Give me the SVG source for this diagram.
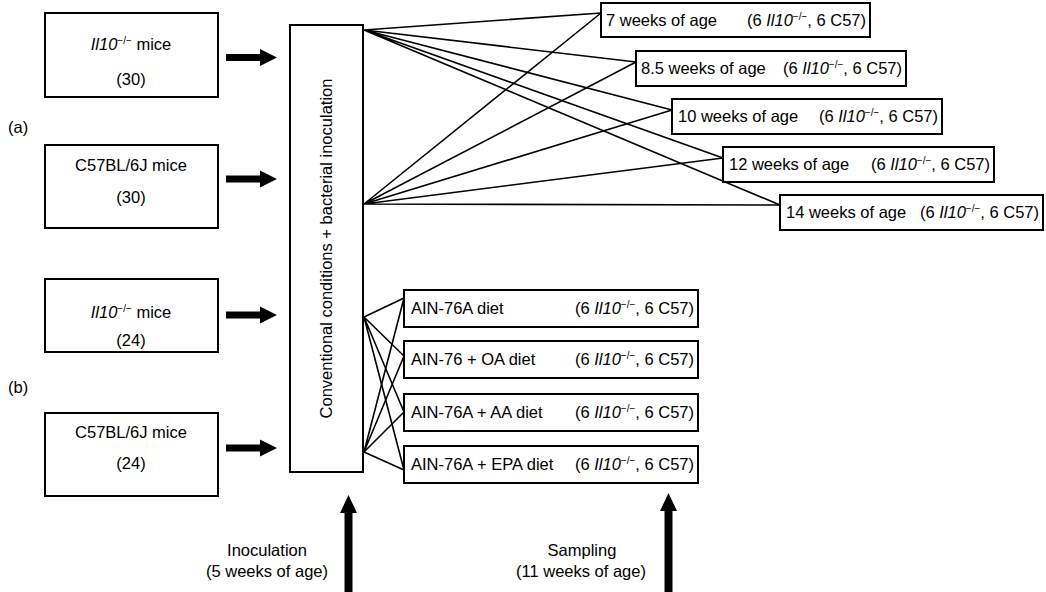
<svg xmlns="http://www.w3.org/2000/svg" width="1046" height="592" viewBox="0 0 1046 592">
  <style>
    .box { fill: #fff; stroke: #000; stroke-width: 2; }
    .t { font-family: "Liberation Sans", Arial, sans-serif; font-size: 16.5px; fill: #000; }
    .c { text-anchor: middle; }
    .e { text-anchor: end; }
    .i { font-style: italic; }
    .sup { font-size: 10px; }
    .link { stroke: #000; stroke-width: 1.6; fill: none; }
    .thick { fill: #000; }
  </style>
  <defs>
    <!-- thick block arrow pointing right, tip at origin -->
    <polygon id="arrowR" points="-51,-3.5 -17,-3.5 -17,-8.5 0,0 -17,8.5 -17,3.5 -51,3.5"/>
  </defs>

  <!-- group labels -->
  <text class="t" x="8" y="133">(a)</text>
  <text class="t" x="8" y="393">(b)</text>

  <!-- source groups -->
  <g id="il10-a">
    <rect class="box" x="45" y="13" width="173" height="84"/>
    <text class="t c" x="131" y="50"><tspan class="i">Il10</tspan><tspan class="sup" dy="-6">−/−</tspan><tspan dy="6"> mice</tspan></text>
    <text class="t c" x="131" y="85">(30)</text>
  </g>
  <g id="c57-a">
    <rect class="box" x="45" y="145" width="173" height="83"/>
    <text class="t c" x="131" y="171">C57BL/6J mice</text>
    <text class="t c" x="131" y="203">(30)</text>
  </g>
  <g id="il10-b">
    <rect class="box" x="45" y="279" width="173" height="73"/>
    <text class="t c" x="131" y="318"><tspan class="i">Il10</tspan><tspan class="sup" dy="-6">−/−</tspan><tspan dy="6"> mice</tspan></text>
    <text class="t c" x="131" y="346">(24)</text>
  </g>
  <g id="c57-b">
    <rect class="box" x="45" y="413" width="173" height="83"/>
    <text class="t c" x="131" y="438">C57BL/6J mice</text>
    <text class="t c" x="131" y="469">(24)</text>
  </g>

  <!-- central treatment box -->
  <g id="treatment">
    <rect class="box" x="290" y="25" width="73" height="447"/>
    <text class="t c" transform="translate(332 248.5) rotate(-90)">Conventional conditions + bacterial inoculation</text>
  </g>

  <!-- sampling age groups -->
  <g id="wk7">
    <rect class="box" x="601" y="3" width="269" height="34"/>
    <text class="t" x="606" y="26">7 weeks of age</text>
    <text class="t e" x="866" y="26">(6 <tspan class="i">Il10</tspan><tspan class="sup" dy="-6">−/−</tspan><tspan dy="6">, 6 C57)</tspan></text>
  </g>
  <g id="wk8-5">
    <rect class="box" x="636" y="51" width="270" height="35"/>
    <text class="t" x="641" y="74">8.5 weeks of age</text>
    <text class="t e" x="902" y="74">(6 <tspan class="i">Il10</tspan><tspan class="sup" dy="-6">−/−</tspan><tspan dy="6">, 6 C57)</tspan></text>
  </g>
  <g id="wk10">
    <rect class="box" x="672" y="99" width="270" height="35"/>
    <text class="t" x="678" y="122">10 weeks of age</text>
    <text class="t e" x="938" y="122">(6 <tspan class="i">Il10</tspan><tspan class="sup" dy="-6">−/−</tspan><tspan dy="6">, 6 C57)</tspan></text>
  </g>
  <g id="wk12">
    <rect class="box" x="723" y="147" width="271" height="35"/>
    <text class="t" x="729" y="170">12 weeks of age</text>
    <text class="t e" x="990" y="170">(6 <tspan class="i">Il10</tspan><tspan class="sup" dy="-6">−/−</tspan><tspan dy="6">, 6 C57)</tspan></text>
  </g>
  <g id="wk14">
    <rect class="box" x="780" y="195" width="263" height="35"/>
    <text class="t" x="786" y="218">14 weeks of age</text>
    <text class="t e" x="1039" y="218">(6 <tspan class="i">Il10</tspan><tspan class="sup" dy="-6">−/−</tspan><tspan dy="6">, 6 C57)</tspan></text>
  </g>

  <!-- diet groups -->
  <g id="diet-ain76a">
    <rect class="box" x="404" y="290" width="294" height="37"/>
    <text class="t" x="411" y="314">AIN-76A diet</text>
    <text class="t e" x="694" y="314">(6 <tspan class="i">Il10</tspan><tspan class="sup" dy="-6">−/−</tspan><tspan dy="6">, 6 C57)</tspan></text>
  </g>
  <g id="diet-oa">
    <rect class="box" x="404" y="341" width="294" height="37"/>
    <text class="t" x="411" y="365">AIN-76 + OA diet</text>
    <text class="t e" x="694" y="365">(6 <tspan class="i">Il10</tspan><tspan class="sup" dy="-6">−/−</tspan><tspan dy="6">, 6 C57)</tspan></text>
  </g>
  <g id="diet-aa">
    <rect class="box" x="404" y="394" width="294" height="37"/>
    <text class="t" x="411" y="418">AIN-76A + AA diet</text>
    <text class="t e" x="694" y="418">(6 <tspan class="i">Il10</tspan><tspan class="sup" dy="-6">−/−</tspan><tspan dy="6">, 6 C57)</tspan></text>
  </g>
  <g id="diet-epa">
    <rect class="box" x="404" y="446" width="294" height="37"/>
    <text class="t" x="411" y="470">AIN-76A + EPA diet</text>
    <text class="t e" x="694" y="470">(6 <tspan class="i">Il10</tspan><tspan class="sup" dy="-6">−/−</tspan><tspan dy="6">, 6 C57)</tspan></text>
  </g>

  <!-- connectors -->
  <g id="connectors">
    <!-- input arrows into treatment -->
    <use href="#arrowR" class="thick" x="277" y="57.5"/>
    <use href="#arrowR" class="thick" x="277" y="179"/>
    <use href="#arrowR" class="thick" x="277" y="315"/>
    <use href="#arrowR" class="thick" x="277" y="448"/>

    <!-- (a) fan-out to sampling ages -->
    <path class="link" d="M364,30 L601,13 M364,30 L636,62 M364,30 L672,110 M364,30 L723,158 M364,30 L780,205"/>
    <path class="link" d="M364,204 L601,13 M364,204 L636,62 M364,204 L672,110 M364,204 L723,158 M364,204 L780,205"/>

    <!-- (b) fan-out to diets -->
    <path class="link" d="M364,317 L404,298 M364,317 L404,356 M364,317 L404,412 M364,317 L404,470"/>
    <path class="link" d="M364,452 L404,298 M364,452 L404,356 M364,452 L404,412 M364,452 L404,470"/>

    <!-- timeline arrows -->
    <polygon class="thick" points="344.5,592 344.5,513 340,513 348.5,495 357,513 352.5,513 352.5,592"/>
    <polygon class="thick" points="664.5,592 664.5,511 660,511 668.5,493 677,511 672.5,511 672.5,592"/>
  </g>

  <!-- timeline labels -->
  <text class="t c" x="267" y="556">Inoculation</text>
  <text class="t c" x="267" y="577">(5 weeks of age)</text>
  <text class="t c" x="582" y="556">Sampling</text>
  <text class="t c" x="581" y="577">(11 weeks of age)</text>
</svg>
